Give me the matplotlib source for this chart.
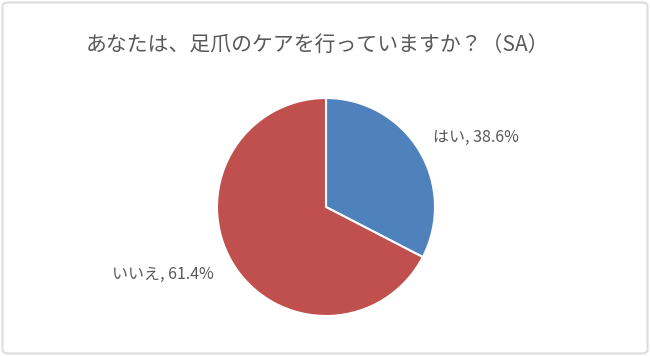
import matplotlib
matplotlib.use("Agg")
import matplotlib.pyplot as plt
from matplotlib.patches import FancyBboxPatch

plt.rcParams['font.family'] = ['Noto Sans CJK JP', 'DejaVu Sans']

# Data
title = "あなたは、足爪のケアを行っていますか？（SA）"
categories = ["はい", "いいえ"]
label_pct = [38.6, 61.4]        # percentages printed on the labels
slice_share = [32.6, 67.4]      # slice sizes as drawn in the reference
colors = ["#4F81BD", "#C0504D"]
label_pos = [(1.38, 0.64), (-1.50, -0.62)]

W, H = 650, 356
fig = plt.figure(figsize=(W / 100, H / 100), dpi=100)

# chart border
border = FancyBboxPatch((2.5 / W, 2.5 / H), 1 - 5 / W, 1 - 5 / H,
                        boxstyle="round,pad=0,rounding_size=0.01",
                        transform=fig.transFigure, fill=False,
                        edgecolor="#DDDDDD", linewidth=1.5)
fig.patches.append(border)

fig.text(318 / W, 1 - 45 / H, title, ha="center", va="center",
         fontsize=15, color="#595959")

cx, cy, r = 326, 207, 109
ax = fig.add_axes([(cx - r) / W, (H - cy - r) / H, 2 * r / W, 2 * r / H])
ax.pie(slice_share, colors=colors, startangle=90, counterclock=False,
       wedgeprops=dict(edgecolor="white", linewidth=1.5))
ax.set_xlim(-1, 1)
ax.set_ylim(-1, 1)
ax.set_aspect("equal")
ax.axis("off")

for cat, pct, (x, y) in zip(categories, label_pct, label_pos):
    ax.text(x, y, f"{cat}, {pct:.1f}%", ha="center", va="center",
            fontsize=11.5, color="#595959", clip_on=False)

fig.savefig("out.png", dpi=100)
